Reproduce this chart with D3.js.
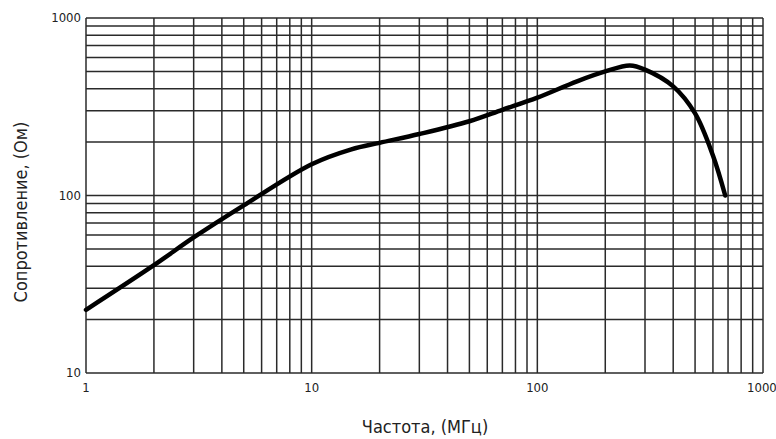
<!DOCTYPE html>
<html>
<head>
<meta charset="utf-8">
<script src="https://cdn.jsdelivr.net/npm/d3@7"></script>
<style>
  body { margin: 0; background: #fff; }
  svg text { fill: #222; }
</style>
</head>
<body>
<svg id="chart"></svg>
<script>
// frequency, MHz
var freq = [1, 2, 3, 5, 10, 15, 20, 30, 50, 70, 100, 150, 200, 257, 300, 400, 500, 600, 680];
// impedance, Ohm
var impedance = [22.7, 40.5, 58, 88, 150, 182, 198, 222, 262, 304, 356, 440, 500, 540, 512, 412, 290, 168, 100];

var xTicks = [1, 10, 100, 1000];
var yTicks = [10, 100, 1000];

var width = 776, height = 439;
var margin = {left: 86, right: 13, top: 18, bottom: 66};

var svg = d3.select('#chart').attr('width', width).attr('height', height);

var x = d3.scaleLog().domain([1, 1000]).range([margin.left, width - margin.right]);
var y = d3.scaleLog().domain([10, 1000]).range([height - margin.bottom, margin.top]);

// all minor lines 1..9 in each decade
var xGrid = [], yGrid = [];
[1, 10, 100].forEach(function(d) {
    for (var k = 1; k < 10; k++) { xGrid.push(d * k); }
});
xGrid.push(1000);
[10, 100].forEach(function(d) {
    for (var k = 1; k < 10; k++) { yGrid.push(d * k); }
});
yGrid.push(1000);

var grid = svg.append('g').attr('stroke', '#2a2a2a').attr('stroke-width', 1.5);

grid.selectAll('line.v').data(xGrid).enter().append('line')
    .attr('class', 'v')
    .attr('x1', function(d) { return x(d); })
    .attr('x2', function(d) { return x(d); })
    .attr('y1', y(10)).attr('y2', y(1000));

grid.selectAll('line.h').data(yGrid).enter().append('line')
    .attr('class', 'h')
    .attr('y1', function(d) { return y(d); })
    .attr('y2', function(d) { return y(d); })
    .attr('x1', x(1)).attr('x2', x(1000));

var tickFont = '"Liberation Sans Narrow", "DejaVu Sans Condensed", sans-serif';

svg.append('g').selectAll('text').data(xTicks).enter().append('text')
    .attr('x', function(d) { return x(d); })
    .attr('y', y(10) + 19)
    .attr('text-anchor', function(d) { return d === 1000 ? 'start' : 'middle'; })
    .attr('dx', function(d) { return d === 1000 ? -16 : 0; })
    .style('font-family', tickFont)
    .style('font-size', '13px')
    .text(function(d) { return d; });

svg.append('g').selectAll('text').data(yTicks).enter().append('text')
    .attr('x', x(1) - 5)
    .attr('y', function(d) { return y(d) + 4; })
    .attr('text-anchor', 'end')
    .style('font-family', tickFont)
    .style('font-size', '13px')
    .text(function(d) { return d; });

var line = d3.line()
    .x(function(d, i) { return x(freq[i]); })
    .y(function(d) { return y(d); })
    .curve(d3.curveCatmullRom.alpha(0.5));

svg.append('path')
    .datum(impedance)
    .attr('d', line)
    .attr('fill', 'none')
    .attr('stroke', '#000')
    .attr('stroke-width', 4.5)
    .attr('stroke-linejoin', 'round')
    .attr('stroke-linecap', 'round');

var titleFont = '"DejaVu Sans Condensed", "Liberation Sans Narrow", sans-serif';

svg.append('text')
    .attr('x', 425).attr('y', 433)
    .attr('text-anchor', 'middle')
    .style('font-family', titleFont)
    .style('font-size', '18px')
    .text('Частота, (МГц)');

svg.append('text')
    .attr('transform', 'translate(27,212) rotate(-90)')
    .attr('text-anchor', 'middle')
    .style('font-family', titleFont)
    .style('font-size', '18px')
    .text('Сопротивление, (Ом)');
</script>
</body>
</html>
